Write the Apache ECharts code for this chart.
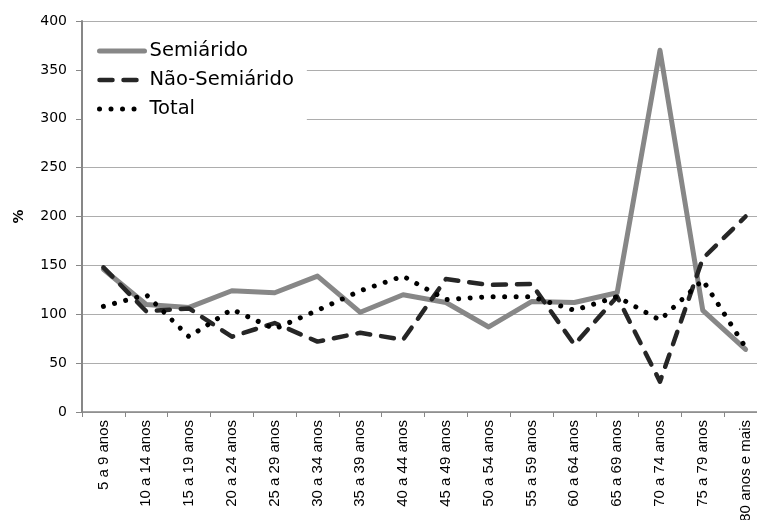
<!DOCTYPE html>
<html>
<head>
<meta charset="utf-8">
<script src="https://cdn.jsdelivr.net/npm/echarts@6/dist/echarts.min.js"></script>
<style>
html,body{margin:0;padding:0;background:#fff;}
#c{width:757px;height:520px;}
</style>
</head>
<body>
<div id="c"></div>
<script>
var categories = ["5 a 9 anos","10 a 14 anos","15 a 19 anos","20 a 24 anos","25 a 29 anos","30 a 34 anos","35 a 39 anos","40 a 44 anos","45 a 49 anos","50 a 54 anos","55 a 59 anos","60 a 64 anos","65 a 69 anos","70 a 74 anos","75 a 79 anos","80 anos e mais"];
var semiarido = [146, 110, 107, 124, 122, 139, 102, 120, 112, 87, 113, 112, 122, 370, 104, 64];
var naoSemiarido = [148, 103, 106, 77, 91, 72, 81, 74, 136, 130, 131, 69, 118, 31, 157, 200];
var total = [108, 120, 77, 105, 85, 104, 124, 139, 115, 118, 118, 104, 118, 94, 135, 66];
var yTicks = [0, 50, 100, 150, 200, 250, 300, 350, 400];

var wideFont = "DejaVu Sans, sans-serif";
var font = "Liberation Sans, Arial, sans-serif";
var chart = echarts.init(document.getElementById('c'), null, {renderer: 'canvas'});
chart.setOption({
  animation: false,
  backgroundColor: '#ffffff',
  textStyle: {fontFamily: font},
  grid: {left: 82, width: 685, top: 21, height: 391, containLabel: false, outerBoundsMode: 'none'},
  legend: {
    orient: 'vertical',
    left: 83, top: 31,
    padding: [10, 13, 5, 14],
    backgroundColor: '#ffffff',
    itemWidth: 45, itemHeight: 16, itemGap: 9,
    textStyle: {fontSize: 19.5, lineHeight: 20, color: '#000', fontFamily: wideFont},
    data: [
      {name: 'Semiárido', itemStyle: {opacity: 0}, lineStyle: {width: 5}},
      {name: 'Não-Semiárido', itemStyle: {opacity: 0}, lineStyle: {width: 4.5}},
      {name: 'Total', itemStyle: {opacity: 0}, lineStyle: {width: 5}}
    ],
    z: 10
  },
  xAxis: {
    type: 'category',
    data: categories,
    boundaryGap: true,
    axisLine: {lineStyle: {color: '#878787', width: 1.5}},
    axisTick: {show: true, length: 5, lineStyle: {color: '#878787'}},
    axisLabel: {rotate: 90, fontSize: 15, color: '#000', margin: 8, interval: 0, fontFamily: font, hideOverlap: false}
  },
  yAxis: {
    type: 'value',
    min: yTicks[0], max: yTicks[yTicks.length - 1], interval: yTicks[1] - yTicks[0],
    name: '%', nameLocation: 'middle', nameGap: 56, nameRotate: 90,
    nameTextStyle: {fontSize: 14, fontWeight: 'bold', color: '#000', fontFamily: wideFont},
    axisLine: {show: true, lineStyle: {color: '#878787', width: 2}},
    axisTick: {show: true, length: 6, lineStyle: {color: '#878787'}},
    axisLabel: {fontSize: 14, color: '#000', margin: 15, fontFamily: wideFont},
    splitLine: {lineStyle: {color: '#adadad', width: 1}}
  },
  series: [
    {
      name: 'Semiárido', type: 'line', data: semiarido,
      symbol: 'none', showSymbol: false,
      lineStyle: {color: '#878787', width: 5, cap: 'round', join: 'round'},
      itemStyle: {color: '#878787'}
    },
    {
      name: 'Não-Semiárido', type: 'line', data: naoSemiarido,
      symbol: 'none', showSymbol: false,
      lineStyle: {color: '#262626', width: 4.5, type: [13, 11], cap: 'round', join: 'round'},
      itemStyle: {color: '#262626'}
    },
    {
      name: 'Total', type: 'line', data: total,
      symbol: 'none', showSymbol: false,
      lineStyle: {color: '#000000', width: 5, type: [0.01, 11.5], cap: 'round', join: 'round'},
      itemStyle: {color: '#000000'}
    }
  ]
});
</script>
</body>
</html>
